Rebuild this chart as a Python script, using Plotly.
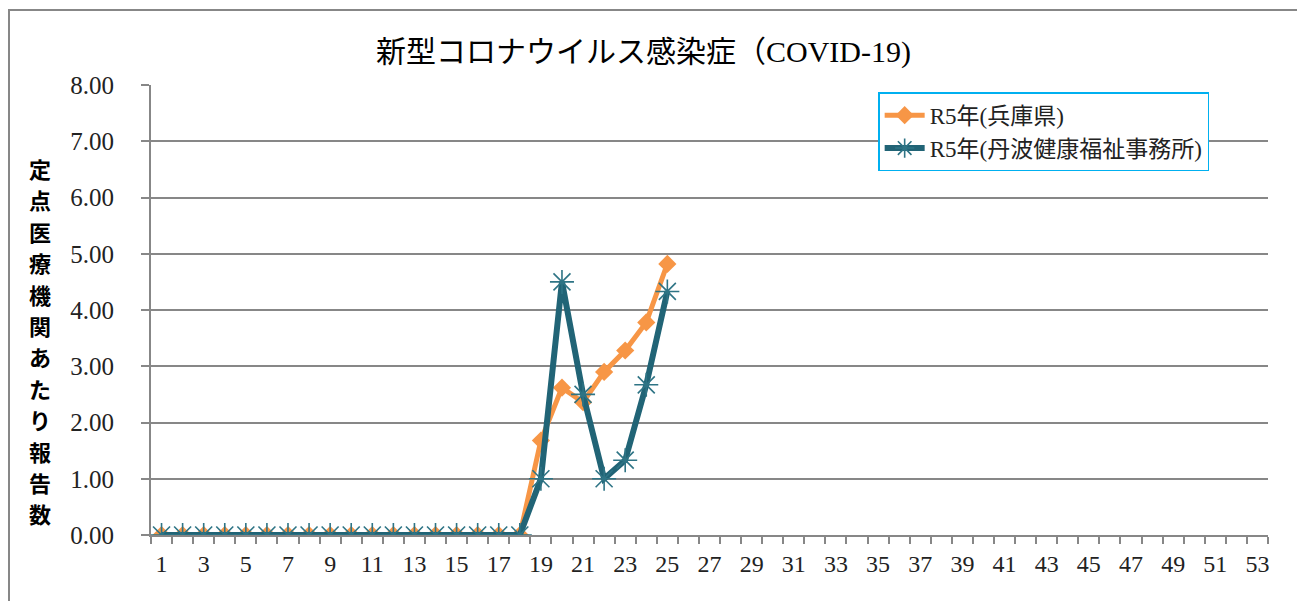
import plotly.graph_objects as go

weeks = list(range(1, 54))
hyogo = [0, 0, 0, 0, 0, 0, 0, 0, 0, 0, 0, 0, 0, 0, 0, 0, 0, 0,
         1.68, 2.62, 2.36, 2.90, 3.28, 3.78, 4.82]
tanba = [0, 0, 0, 0, 0, 0, 0, 0, 0, 0, 0, 0, 0, 0, 0, 0, 0, 0,
         1.00, 4.50, 2.50, 1.00, 1.33, 2.67, 4.33]
series_names = ["R5年(兵庫県)", "R5年(丹波健康福祉事務所)"]
title_text = "新型コロナウイルス感染症（COVID-19)"
ytitle_text = "定点医療機関あたり報告数"

SERIF = "Liberation Serif, Noto Sans CJK JP, serif"
GRAY = "#878787"

fig = go.Figure()
fig.add_trace(go.Scatter(
    x=weeks[:len(hyogo)], y=hyogo, name=series_names[0], mode="lines+markers",
    line=dict(color="#f79646", width=5),
    marker=dict(symbol="diamond", size=14, color="#f79646"),
))
fig.add_trace(go.Scatter(
    x=weeks[:len(tanba)], y=tanba, name=series_names[1], mode="lines+markers",
    line=dict(color="#216476", width=6),
    marker=dict(symbol="asterisk", size=20, color="#2e7485",
                line=dict(color="#2e7485", width=1.6)),
))

fig.update_layout(
    width=1297, height=593,
    margin=dict(l=143, r=37, t=77, b=66),
    paper_bgcolor="white", plot_bgcolor="white",
    showlegend=True,
    hovermode=False,
    title=dict(text=title_text, x=0.49, xanchor="center", y=0.927, yanchor="middle",
               font=dict(family=SERIF, size=30, color="black")),
    legend=dict(x=0.651, y=0.984, xanchor="left", yanchor="top",
                bgcolor="white", bordercolor="#00b0f0", borderwidth=1.5,
                font=dict(family=SERIF, size=23, color="#222"),
                tracegroupgap=0, itemwidth=40),
    xaxis=dict(
        range=[0.5, 53.5], tickmode="linear", tick0=1, dtick=2, ticks="",
        showgrid=False, zeroline=False, showline=True, linecolor=GRAY, linewidth=2,
        tickfont=dict(family=SERIF, size=24, color="#222"), ticklabelstandoff=6,
        minor=dict(tickmode="linear", tick0=0.5, dtick=1, ticks="outside",
                   ticklen=7, tickcolor=GRAY, tickwidth=2, showgrid=False),
    ),
    yaxis=dict(
        range=[0, 8], tickmode="linear", tick0=0, dtick=1, tickformat=".2f",
        showgrid=True, gridcolor=GRAY, gridwidth=2, zeroline=False,
        showline=True, linecolor=GRAY, linewidth=2,
        ticks="outside", ticklen=8, tickcolor=GRAY, tickwidth=2,
        tickfont=dict(family=SERIF, size=25, color="#222"), ticklabelstandoff=22,
    ),
)

# vertical stacked y-axis title, one character per line
n = len(ytitle_text)
top_px, step_px = 168, 31.4
for i, ch in enumerate(ytitle_text):
    fig.add_annotation(
        text=ch, xref="paper", yref="paper",
        x=-0.0995, y=(535 - (top_px + i * step_px)) / 450,
        xanchor="center", yanchor="middle", showarrow=False,
        font=dict(family="Noto Sans CJK JP", size=22, color="black", weight="bold"),
    )

# outer chart border
fig.add_shape(type="rect", xref="paper", yref="paper",
              x0=(9 - 151) / 1117, x1=(1300 - 151) / 1117,
              y0=-0.2, y1=(535 - 10) / 450,
              line=dict(color=GRAY, width=2), layer="below")

fig.write_html("out.html")
